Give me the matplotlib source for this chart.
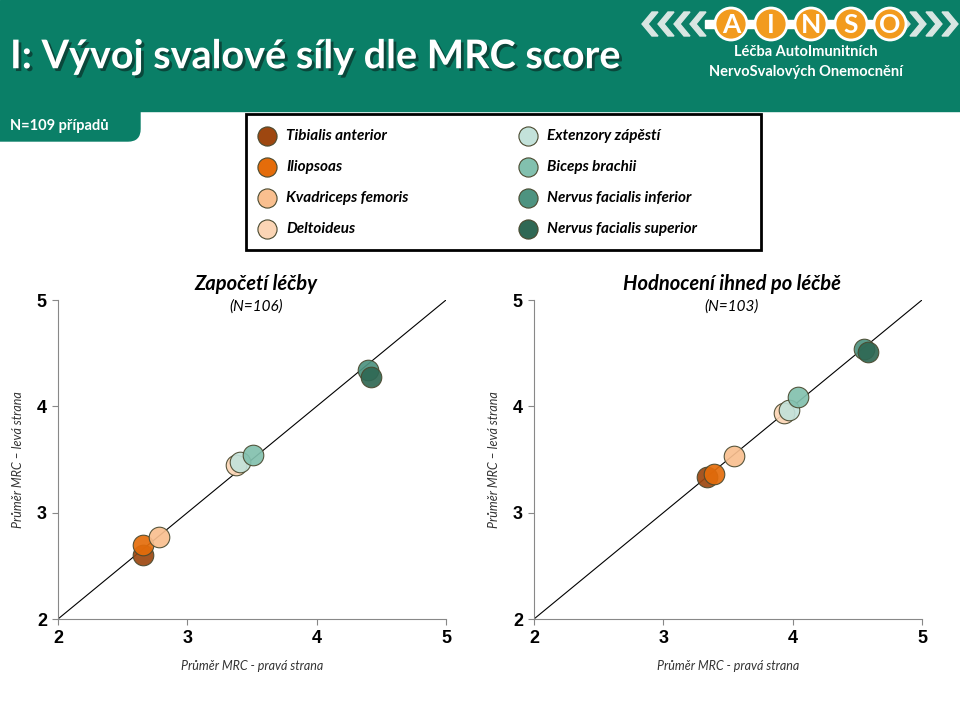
import matplotlib
matplotlib.use("Agg")
import matplotlib.pyplot as plt
import matplotlib.patheffects as pe
from matplotlib.patches import Rectangle, Circle, FancyBboxPatch, Polygon

plt.rcParams['font.family'] = ['Lato', 'DejaVu Sans']

# muscles and colours
muscles = ["Tibialis anterior", "Iliopsoas", "Kvadriceps femoris", "Deltoideus",
           "Extenzory zápěstí", "Biceps brachii", "Nervus facialis inferior",
           "Nervus facialis superior"]
colors = ["#9E4710", "#E46C0A", "#F9BF8F", "#FBD5B5",
          "#C3E2DA", "#82C0AE", "#4E9380", "#2F6854"]

# mean MRC score, right side (x) and left side (y)
start_right = [2.66, 2.66, 2.78, 3.38, 3.41, 3.51, 4.40, 4.42]
start_left = [2.60, 2.70, 2.77, 3.45, 3.48, 3.54, 4.34, 4.28]
after_right = [3.34, 3.39, 3.55, 3.93, 3.97, 4.04, 4.55, 4.58]
after_left = [3.34, 3.36, 3.53, 3.94, 3.97, 4.09, 4.54, 4.51]

titles = ["Započetí léčby", "Hodnocení ihned po léčbě"]
subtitles = ["(N=106)", "(N=103)"]
ticks = [2, 3, 4, 5]

green = "#0A7F67"

fig = plt.figure(figsize=(9.6, 7.2), dpi=100)

# background layer in pixel coordinates
bg = fig.add_axes([0, 0, 1, 1])
bg.set_xlim(0, 960)
bg.set_ylim(720, 0)
bg.axis("off")

bg.add_patch(Rectangle((0, 0), 960, 111, color=green, zorder=1))
bg.add_patch(FancyBboxPatch((-30, 90), 170, 51, boxstyle="round,pad=0,rounding_size=12",
                            color=green, zorder=1))
bg.text(10, 126, "N=109 případů", color="white", fontsize=10.5, fontweight="bold",
        va="center", ha="left", zorder=3)

bg.text(10, 57, "I: Vývoj svalové síly dle MRC score", color="white", fontsize=28.5,
        fontweight="bold", va="center", ha="left", zorder=3,
        path_effects=[pe.withSimplePatchShadow(offset=(2, -2), shadow_rgbFace="#0a3a30", alpha=0.8)])

# logo
for cx in [642, 658, 674, 690]:
    bg.add_patch(Polygon([[cx + 10, 12], [cx, 24], [cx + 10, 36], [cx + 16, 36], [cx + 6, 24], [cx + 16, 12]],
                         color="#d8e6e2", zorder=2))
for cx in [910, 926, 942, 958]:
    bg.add_patch(Polygon([[cx - 10, 12], [cx, 24], [cx - 10, 36], [cx - 16, 36], [cx - 6, 24], [cx - 16, 12]],
                         color="#d8e6e2", zorder=2))
bg.add_patch(Rectangle((705, 20), 195, 8, color="white", zorder=2))
for cx, letter in zip([731, 771, 811, 851, 890], "AINSO"):
    bg.add_patch(Circle((cx, 24), 16, facecolor="#F29B1E", edgecolor="white", lw=2, zorder=3))
    bg.text(cx, 25, letter, color="white", fontsize=19, fontweight="bold",
            ha="center", va="center", zorder=4)
bg.text(806, 52, "Léčba AutoImunitních", color="white", fontsize=10.5, fontweight="bold",
        ha="center", va="center", zorder=3)
bg.text(806, 72, "NervoSvalových Onemocnění", color="white", fontsize=10.5, fontweight="bold",
        ha="center", va="center", zorder=3)

# legend box
bg.add_patch(Rectangle((246, 114), 515, 136, facecolor="white", edgecolor="black", lw=2, zorder=2))
rows = [136, 167, 198, 229]
for i, (name, col) in enumerate(zip(muscles, colors)):
    lx = 267 if i < 4 else 528
    ly = rows[i % 4]
    bg.scatter([lx], [ly], s=190, color=col, edgecolors="#4a4a30", linewidths=0.8, zorder=3)
    bg.text(lx + 19, ly, name, fontsize=11, fontweight="bold", style="italic",
            ha="left", va="center", zorder=3)

# scatter panels
panels = [(start_right, start_left), (after_right, after_left)]
lefts = [58 / 960, 534 / 960]
for k, (xs, ys) in enumerate(panels):
    ax = fig.add_axes([lefts[k], 101 / 720, 388 / 960, 319 / 720])
    ax.plot([2, 5], [2, 5], color="black", lw=0.8, zorder=1)
    for x, y, col in zip(xs, ys, colors):
        ax.scatter([x], [y], s=220, color=col, edgecolors="#4a4a30", linewidths=0.8,
                   alpha=0.92, zorder=3)
    ax.set_xlim(2, 5)
    ax.set_ylim(2, 5)
    ax.set_xticks(ticks)
    ax.set_yticks(ticks)
    for lab in ax.get_xticklabels() + ax.get_yticklabels():
        lab.set_family(['Liberation Sans', 'DejaVu Sans'])
        lab.set_fontweight("bold")
        lab.set_fontsize(13)
    ax.tick_params(axis="both", length=4, color="#888888", pad=4)
    for side in ["top", "right"]:
        ax.spines[side].set_visible(False)
    for side in ["left", "bottom"]:
        ax.spines[side].set_color("#888888")
    ax.set_xlabel("Průměr MRC - pravá strana", fontsize=9, style="italic", color="#333333", labelpad=9)
    ax.set_ylabel("Průměr MRC – levá strana", fontsize=9, style="italic", color="#333333", labelpad=9)
    ax.text(0.51, 1.05, titles[k], transform=ax.transAxes, fontsize=14.5, fontweight="bold",
            style="italic", ha="center", va="center")
    ax.text(0.51, 0.98, subtitles[k], transform=ax.transAxes, fontsize=11, style="italic",
            ha="center", va="center")

fig.savefig("out.png", dpi=100)
